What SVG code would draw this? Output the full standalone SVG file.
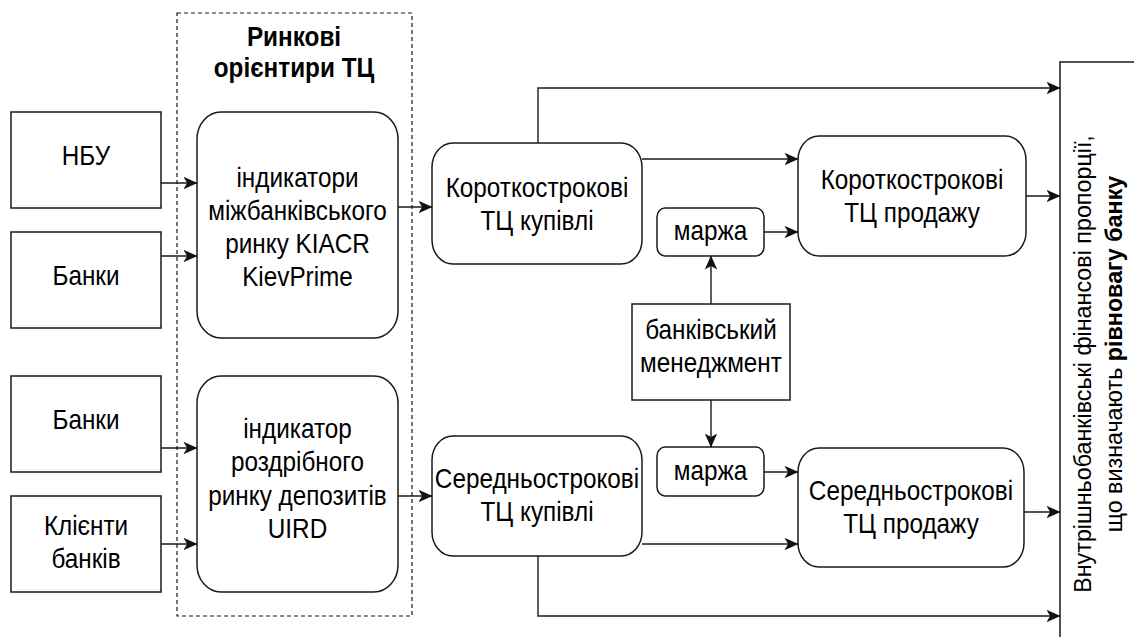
<svg xmlns="http://www.w3.org/2000/svg" width="1134" height="637" viewBox="0 0 1134 637">
  <defs>
    <marker id="arrow" viewBox="0 0 14 14" refX="13.5" refY="7" markerWidth="14" markerHeight="14" markerUnits="userSpaceOnUse" orient="auto">
      <path d="M0,0.8 L14,7 L0,13.2 L3.6,7 Z" fill="#111"/>
    </marker>
    <style>
      .box { fill: #fff; stroke: #1a1a1a; stroke-width: 1.5; }
      .group { fill: none; stroke: #1a1a1a; stroke-width: 1.2; stroke-dasharray: 4 3; }
      .edge { fill: none; stroke: #1a1a1a; stroke-width: 1.4; marker-end: url(#arrow); }
      .lbl { font-family: "Liberation Sans", Arial, sans-serif; font-size: 24.3px; fill: #000; text-anchor: middle; }
      .rot { font-size: 23.3px; }
      .b { font-weight: bold; }
    </style>
  </defs>

  <!-- market benchmarks container -->
  <g id="market-benchmarks">
    <rect class="group" x="177" y="13" width="235" height="603"/>
    <text class="lbl b" transform="matrix(1 0 0 1.14 294 45.5)" x="0" y="0">Ринкові<tspan x="0" dy="28">орієнтири ТЦ</tspan></text>
  </g>

  <!-- sources -->
  <g id="nbu">
    <rect class="box" x="11" y="112" width="150" height="96"/>
    <text class="lbl" transform="matrix(1 0 0 1.14 86 165)" x="0" y="0">НБУ</text>
  </g>
  <g id="banks-1">
    <rect class="box" x="11" y="232" width="150" height="96"/>
    <text class="lbl" transform="matrix(1 0 0 1.14 86 285)" x="0" y="0">Банки</text>
  </g>
  <g id="banks-2">
    <rect class="box" x="11" y="376" width="150" height="96"/>
    <text class="lbl" transform="matrix(1 0 0 1.14 86 428.5)" x="0" y="0">Банки</text>
  </g>
  <g id="clients">
    <rect class="box" x="11" y="496" width="150" height="96"/>
    <text class="lbl" transform="matrix(1 0 0 1.14 86 535)" x="0" y="0">Клієнти<tspan x="0" dy="29.2">банків</tspan></text>
  </g>

  <!-- indicators -->
  <g id="interbank-indicators">
    <rect class="box" x="197" y="112" width="201" height="226" rx="24" ry="27"/>
    <text class="lbl" transform="matrix(1 0 0 1.14 297.5 186.5)" x="0" y="0">індикатори<tspan x="0" dy="29.2">міжбанківського</tspan><tspan x="0" dy="29.2">ринку KIACR</tspan><tspan x="0" dy="29.2">KievPrime</tspan></text>
  </g>
  <g id="retail-indicator">
    <rect class="box" x="197" y="376" width="201" height="216" rx="24" ry="27"/>
    <text class="lbl" transform="matrix(1 0 0 1.14 297.5 438)" x="0" y="0">індикатор<tspan x="0" dy="29.2">роздрібного</tspan><tspan x="0" dy="29.2">ринку депозитів</tspan><tspan x="0" dy="29.2">UIRD</tspan></text>
  </g>

  <!-- purchase rates -->
  <g id="short-buy">
    <rect class="box" x="432" y="143" width="210" height="121" rx="21" ry="24"/>
    <text class="lbl" transform="matrix(1 0 0 1.14 537 197)" x="0" y="0">Короткострокові<tspan x="0" dy="29.2">ТЦ купівлі</tspan></text>
  </g>
  <g id="mid-buy">
    <rect class="box" x="432" y="436" width="210" height="120" rx="21" ry="24"/>
    <text class="lbl" transform="matrix(1 0 0 1.14 537 488)" x="0" y="0">Середньострокові<tspan x="0" dy="29.2">ТЦ купівлі</tspan></text>
  </g>

  <!-- margins and management -->
  <g id="margin-1">
    <rect class="box" x="657" y="208" width="107" height="48" rx="8" ry="9"/>
    <text class="lbl" transform="matrix(1 0 0 1.14 710.5 240)" x="0" y="0">маржа</text>
  </g>
  <g id="margin-2">
    <rect class="box" x="657" y="447" width="107" height="49" rx="8" ry="9"/>
    <text class="lbl" transform="matrix(1 0 0 1.14 710.5 480)" x="0" y="0">маржа</text>
  </g>
  <g id="management">
    <rect class="box" x="632" y="304" width="158" height="96"/>
    <text class="lbl" transform="matrix(1 0 0 1.14 711 338.5)" x="0" y="0">банківський<tspan x="0" dy="29.2">менеджмент</tspan></text>
  </g>

  <!-- sale rates -->
  <g id="short-sell">
    <rect class="box" x="798" y="136" width="228" height="120" rx="21" ry="24"/>
    <text class="lbl" transform="matrix(1 0 0 1.14 912 189)" x="0" y="0">Короткострокові<tspan x="0" dy="29.2">ТЦ продажу</tspan></text>
  </g>
  <g id="mid-sell">
    <rect class="box" x="798" y="448" width="226" height="119" rx="21" ry="24"/>
    <text class="lbl" transform="matrix(1 0 0 1.14 911 500)" x="0" y="0">Середньострокові<tspan x="0" dy="29.2">ТЦ продажу</tspan></text>
  </g>

  <!-- resulting proportions -->
  <g id="proportions">
    <rect class="box" x="1060" y="62" width="200" height="600"/>
    <text class="lbl rot" transform="translate(1091 364) rotate(-90)" x="0" y="0">Внутрішньобанківські фінансові пропорції,</text>
    <text class="lbl rot" transform="translate(1122 354) rotate(-90)" x="0" y="0">що визначають <tspan class="b">рівновагу банку</tspan></text>
  </g>

  <!-- connectors -->
  <g id="connectors">
    <path class="edge" d="M161,183 H197"/>
    <path class="edge" d="M161,256 H197"/>
    <path class="edge" d="M161,448 H197"/>
    <path class="edge" d="M161,544 H197"/>
    <path class="edge" d="M398,207 H432"/>
    <path class="edge" d="M398,496 H432"/>
    <path class="edge" d="M642,159 H798"/>
    <path class="edge" d="M764,232 H798"/>
    <path class="edge" d="M711,304 V256"/>
    <path class="edge" d="M711,400 V447"/>
    <path class="edge" d="M764,472 H798"/>
    <path class="edge" d="M642,544 H798"/>
    <path class="edge" d="M538,143 V88 H1060"/>
    <path class="edge" d="M1026,196 H1060"/>
    <path class="edge" d="M1024,512 H1060"/>
    <path class="edge" d="M538,556 V616 H1060"/>
  </g>
</svg>
